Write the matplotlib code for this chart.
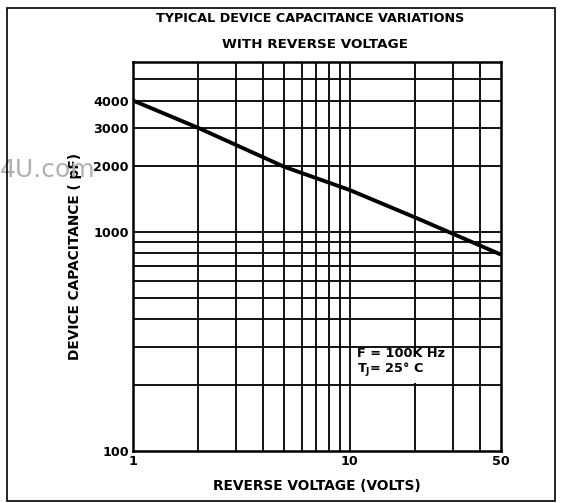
import matplotlib
matplotlib.use("Agg")
import matplotlib.pyplot as plt
from matplotlib.patches import Rectangle
from matplotlib.ticker import FixedLocator, NullLocator

# datos
voltaje = [1, 2, 5, 10, 20, 50]
capacitancia = [4000, 3000, 1990, 1560, 1170, 790]

grid_x = [2, 3, 4, 5, 6, 7, 8, 9, 10, 20, 30, 40]
grid_y = [200, 300, 400, 500, 600, 700, 800, 900, 1000, 2000, 3000, 4000, 5000]
ticks_x = [1, 10, 50]
ticks_y = [100, 1000, 2000, 3000, 4000]

plt.rcParams['font.family'] = ['DejaVu Sans']

fig = plt.figure(figsize=(5.66, 5.03), dpi=100)
ax = fig.add_axes([133 / 566, 1 - 451 / 503, (501 - 133) / 566, (451 - 62) / 503])

ax.set_xscale('log')
ax.set_yscale('log')
ax.set_xlim(1, 50)
ax.set_ylim(100, 6000)

for gx in grid_x:
    ax.axvline(gx, color='black', lw=1.3, zorder=1)
for gy in grid_y:
    ax.axhline(gy, color='black', lw=1.3, zorder=1)

ax.plot(voltaje, capacitancia, color='black', lw=2.8, zorder=3, solid_capstyle='butt')

ax.xaxis.set_major_locator(FixedLocator(ticks_x))
ax.xaxis.set_minor_locator(NullLocator())
ax.yaxis.set_major_locator(FixedLocator(ticks_y))
ax.yaxis.set_minor_locator(NullLocator())
ax.set_xticklabels([str(t) for t in ticks_x], fontweight='bold', fontsize=9.2)
ax.set_yticklabels([str(t) for t in ticks_y], fontweight='bold', fontsize=9.2)
ax.tick_params(length=0, pad=3)
for s in ax.spines.values():
    s.set_linewidth(1.8)

ax.set_xlabel("REVERSE VOLTAGE (VOLTS)", fontweight='bold', fontsize=9.9, labelpad=8)
ax.set_ylabel("DEVICE CAPACITANCE ( pF)", fontweight='bold', fontsize=9.9, labelpad=8)

# recuadro blanco detras de la leyenda de condiciones
ax.add_patch(Rectangle((10.3, 204), 29.2 - 10.3, 296 - 204, facecolor='white',
                       edgecolor='none', zorder=2))
ax.text(357 / 566, 1 - 363 / 503, "F = 100K Hz\nT$_\\mathbf{J}$= 25° C", transform=fig.transFigure,
        fontweight='bold', fontsize=9.3, va='center', ha='left', linespacing=1.1, zorder=4)

fig.text(310 / 566, 1 - 18 / 503, "TYPICAL DEVICE CAPACITANCE VARIATIONS",
         ha='center', va='center', fontweight='bold', fontsize=9.2)
fig.text(315 / 566, 1 - 44 / 503, "WITH REVERSE VOLTAGE",
         ha='center', va='center', fontweight='bold', fontsize=9.7)

# marca de agua
fig.text(0.0, 1 - 170 / 503, "4U.com", ha='left', va='center',
         fontsize=18, color='#b0b0b0', zorder=0)

fig.patches.append(Rectangle((7 / 566, 1 - 501 / 503), (555 - 7) / 566, (501 - 8) / 503,
                             transform=fig.transFigure, fill=False, edgecolor='black', lw=1.2))

fig.savefig("out.png", dpi=100)
